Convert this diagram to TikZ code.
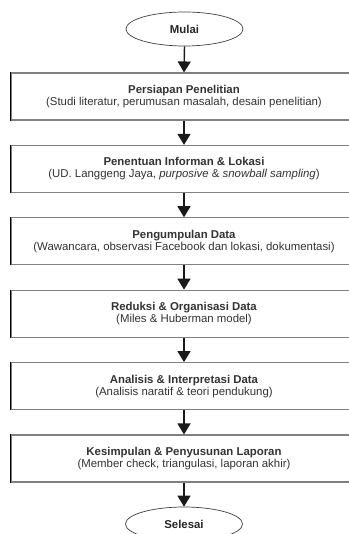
\documentclass[tikz,border=0pt]{standalone}
\usepackage{fontspec}
\setmainfont{Liberation Sans}
\usetikzlibrary{arrows.meta,shapes.geometric}
\tikzset{
  stepbox/.style={draw=black!50, line width=1.1pt, rectangle, minimum width=346pt,
    minimum height=47pt, inner sep=0pt, align=center, text=black!80,
    font=\fontsize{11.4}{12}\selectfont},
  term/.style={draw=black!75, line width=0.7pt, ellipse, minimum width=117pt,
    minimum height=34pt, inner sep=0pt, text=black!85,
    font=\fontsize{11.4}{12}\selectfont\bfseries},
  flow/.style={line width=1.4pt, black!90, -{Triangle[width=13pt,length=11pt]}},
  leftedge/.style={line width=0.8pt, black}
}
\begin{document}
\begin{tikzpicture}[x=1pt,y=1pt]
\useasboundingbox (0,0) rectangle (348,-534);
\fill[white] (0,0) rectangle (348,-534);
\node[term] (mulai) at (184.5,-29) {Mulai};
\node[stepbox] (b1) at (184,-96.5) {\textbf{Persiapan Penelitian}\\(Studi literatur, perumusan masalah, desain penelitian)};
\node[stepbox] (b2) at (184,-168.9) {\textbf{Penentuan Informan \& Lokasi}\\(UD. Langgeng Jaya, \textit{purposive} \& \textit{snowball sampling})};
\node[stepbox] (b3) at (184,-241.3) {\textbf{Pengumpulan Data}\\(Wawancara, observasi Facebook dan lokasi, dokumentasi)};
\node[stepbox] (b4) at (184,-313.7) {\textbf{Reduksi \& Organisasi Data}\\(Miles \& Huberman model)};
\node[stepbox] (b5) at (184,-386.1) {\textbf{Analisis \& Interpretasi Data}\\(Analisis naratif \& teori pendukung)};
\node[stepbox] (b6) at (184,-458.5) {\textbf{Kesimpulan \& Penyusunan Laporan}\\(Member check, triangulasi, laporan akhir)};
\node[term] (selesai) at (184,-524) {Selesai};
\foreach \b in {b1,b2,b3,b4,b5,b6}{
  \draw[leftedge] (\b.north west) -- (\b.south west);
}
\draw[flow] (mulai.south) -- (b1.north);
\draw[flow] (b1.south) -- (b2.north);
\draw[flow] (b2.south) -- (b3.north);
\draw[flow] (b3.south) -- (b4.north);
\draw[flow] (b4.south) -- (b5.north);
\draw[flow] (b5.south) -- (b6.north);
\draw[flow] (b6.south) -- (selesai.north);
\end{tikzpicture}
\end{document}
